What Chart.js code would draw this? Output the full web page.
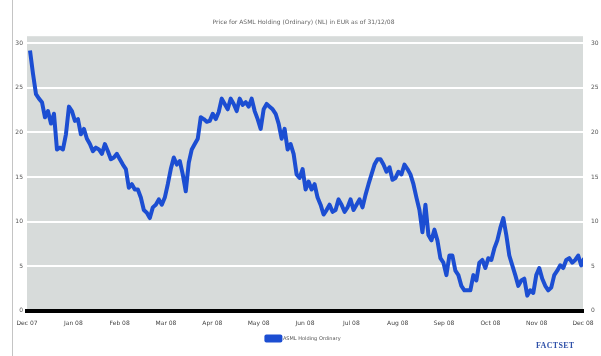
<!DOCTYPE html>
<html>
<head>
<meta charset="utf-8">
<script src="https://cdn.jsdelivr.net/npm/chart.js@4/dist/chart.umd.min.js"></script>
<style>
  body { margin: 0; background: #fff; }
  #wrap { position: relative; width: 601px; height: 356px; }
  #edge { position: absolute; left: 12px; top: 0; width: 0; height: 356px; border-left: 1px solid #c4c4c4; }
  #brand { position: absolute; left: 536px; top: 341px; font: bold 8px "Liberation Serif", serif; color: #2d4fa8; letter-spacing: 0.3px; }
</style>
</head>
<body>
<div id="wrap">
  <canvas id="priceChart" width="601" height="356"></canvas>
  <div id="edge"></div>
  <div id="brand">FACTSET</div>
</div>
<script>
const titleText = 'Price for ASML Holding (Ordinary) (NL) in EUR as of 31/12/08';
const seriesLabel = 'ASML Holding Ordinary';
const monthLabels = ['Dec 07', 'Jan 08', 'Feb 08', 'Mar 08', 'Apr 08', 'May 08', 'Jun 08',
  'Jul 08', 'Aug 08', 'Sep 08', 'Oct 08', 'Nov 08', 'Dec 08'];
const yTicks = [0, 5, 10, 15, 20, 25, 30];
// price readings, roughly two per week
const prices = [
  29.2, 26.6, 24.3, 23.8, 23.4, 21.7, 22.4, 21.0, 22.1, 18.1,
  18.3, 18.1, 19.8, 22.9, 22.4, 21.3, 21.5, 19.8, 20.4, 19.3,
  18.7, 17.9, 18.3, 18.1, 17.6, 18.7, 17.9, 17.0, 17.2, 17.6,
  17.0, 16.4, 15.9, 13.8, 14.2, 13.6, 13.6, 12.7, 11.3, 11.0,
  10.4, 11.6, 11.9, 12.5, 11.9, 12.7, 14.2, 15.9, 17.2, 16.4,
  16.8, 15.3, 13.4, 16.6, 18.1, 18.7, 19.3, 21.7, 21.5, 21.2,
  21.3, 22.1, 21.5, 22.3, 23.8, 23.2, 22.6, 23.8, 23.2, 22.4,
  23.8, 23.1, 23.4, 22.9, 23.8, 22.4, 21.5, 20.4, 22.6, 23.2,
  22.9, 22.6, 22.1, 21.0, 19.3, 20.4, 18.1, 18.7, 17.6, 15.3,
  14.9, 15.9, 13.6, 14.5, 13.6, 14.2, 12.7, 11.9, 10.8, 11.3,
  11.9, 11.1, 11.3, 12.5, 11.9, 11.1, 11.6, 12.5, 11.3, 11.9,
  12.5, 11.6, 13.0, 14.2, 15.3, 16.4, 17.0, 17.0, 16.4, 15.6,
  16.1, 14.7, 14.9, 15.6, 15.3, 16.4, 15.9, 15.3, 14.2, 12.7,
  11.3, 8.8, 11.9, 8.5, 7.9, 9.1, 7.9, 5.9, 5.4, 4.0,
  6.2, 6.2, 4.5, 4.0, 2.8, 2.3, 2.3, 2.3, 4.0, 3.4,
  5.4, 5.7, 4.8, 5.9, 5.7, 7.0, 7.9, 9.3, 10.4, 8.5,
  6.2, 5.1, 4.0, 2.8, 3.4, 3.6, 1.7, 2.3, 2.0, 4.0,
  4.8, 3.6, 2.8, 2.3, 2.6, 4.0, 4.5, 5.1, 4.8, 5.7,
  5.9, 5.4, 5.7, 6.2, 5.1, 5.9
];

const xMin = -1;
const xMax = 184.6;
const monthStep = (xMax - xMin) / (monthLabels.length - 1);

const plotBackground = {
  id: 'plotBackground',
  beforeDraw(chart) {
    const { ctx, chartArea } = chart;
    ctx.save();
    ctx.fillStyle = '#d7dbda';
    ctx.fillRect(chartArea.left, chartArea.top, chartArea.right - chartArea.left, chartArea.bottom - chartArea.top);
    ctx.restore();
  },
};

function keepTicks(scale) {
  scale.ticks = yTicks.map(v => ({ value: v }));
}

const tickFont = { family: 'DejaVu Sans', size: 6 };

const ctx = document.getElementById('priceChart');
new Chart(ctx, {
  type: 'line',
  plugins: [plotBackground],
  data: {
    datasets: [{
      label: seriesLabel,
      data: prices.map((p, i) => ({ x: i, y: p })),
      borderColor: '#1c4ed2',
      backgroundColor: '#1c4ed2',
      borderWidth: 4,
      pointRadius: 0,
      tension: 0,
      borderJoinStyle: 'round',
      yAxisID: 'y',
    }],
  },
  options: {
    responsive: false,
    animation: false,
    layout: { padding: { left: 8, right: 2, bottom: 5 } },
    plugins: {
      title: {
        display: true,
        text: titleText,
        color: '#666',
        font: { family: 'DejaVu Sans', size: 6, weight: 'normal' },
        padding: { top: 19, bottom: 10 },
      },
      legend: {
        position: 'bottom',
        labels: {
          boxWidth: 14,
          boxHeight: 4,
          color: '#555',
          font: { family: 'DejaVu Sans', size: 5 },
          padding: 8,
        },
      },
      tooltip: { enabled: false },
    },
    scales: {
      x: {
        type: 'linear',
        min: xMin,
        max: xMax,
        afterBuildTicks: (scale) => {
          scale.ticks = monthLabels.map((m, k) => ({ value: xMin + k * monthStep }));
        },
        ticks: {
          autoSkip: false,
          maxRotation: 0,
          color: '#444',
          font: tickFont,
          padding: 1,
          callback: (v, k) => monthLabels[k],
        },
        grid: { display: false },
        border: { display: true, color: '#000', width: 4 },
      },
      y: {
        min: 0,
        max: 30.8,
        afterBuildTicks: keepTicks,
        afterFit: (scale) => { scale.width = 19; },
        ticks: { color: '#555', font: tickFont, padding: 4 },
        grid: { color: '#ffffff', lineWidth: 2, drawTicks: false },
        border: { display: false },
      },
      y2: {
        type: 'linear',
        display: true,
        position: 'right',
        min: 0,
        max: 30.8,
        afterBuildTicks: keepTicks,
        afterFit: (scale) => { scale.width = 16; },
        ticks: { display: true, color: '#555', font: tickFont, padding: 8 },
        grid: { display: false, drawTicks: false },
        border: { display: false },
      },
    },
  },
});
</script>
</body>
</html>
